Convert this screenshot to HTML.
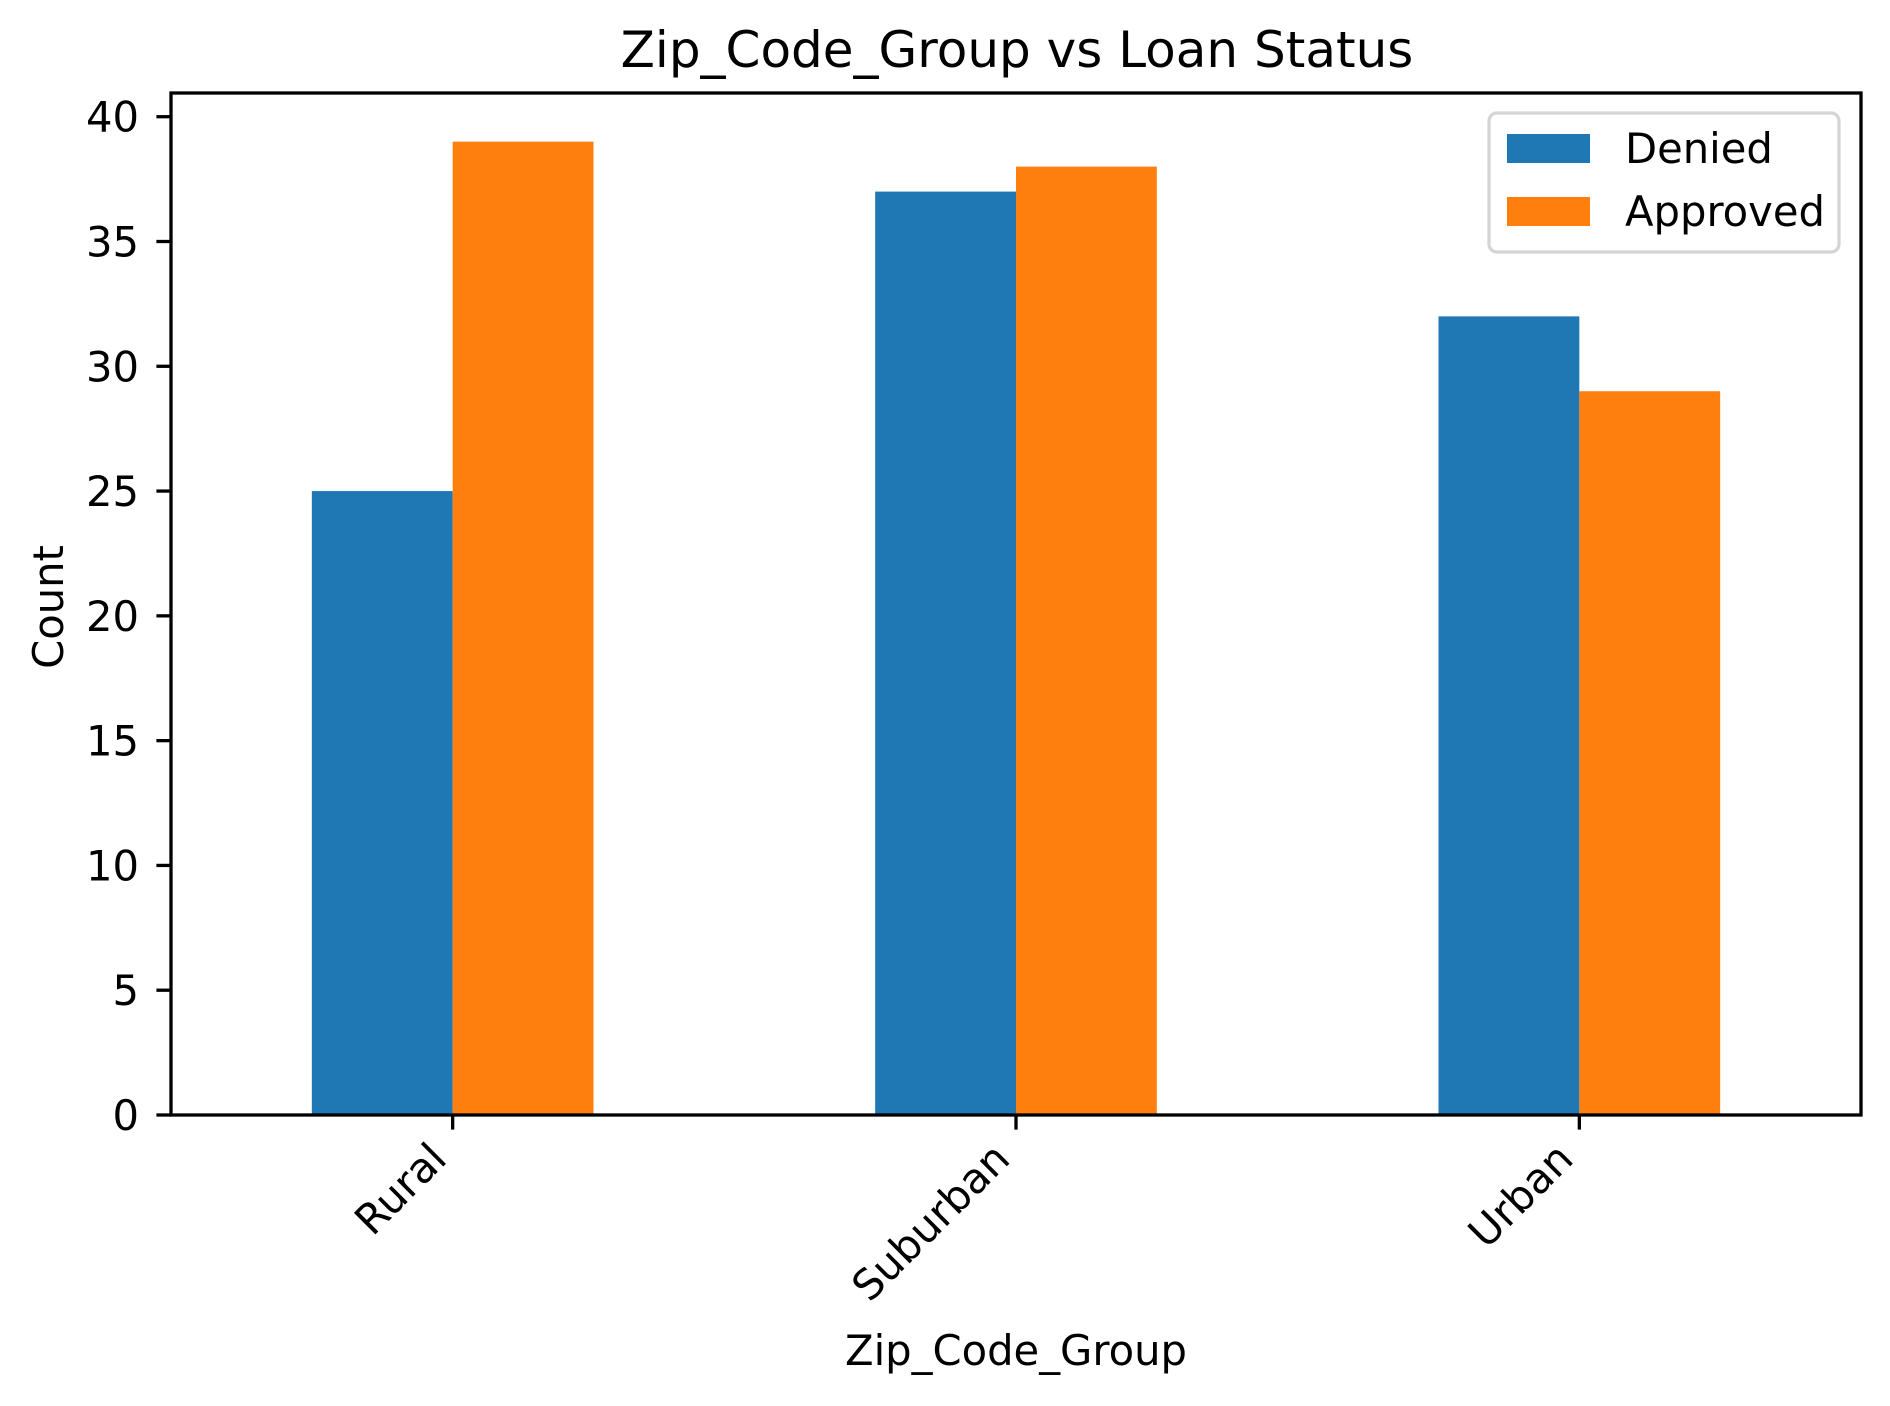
<!DOCTYPE html>
<html><head><meta charset="utf-8"><style>
html,body{margin:0;padding:0;background:#fff;}
svg{display:block;font-family:"DejaVu Sans","Liberation Sans",sans-serif;}
</style></head><body>
<svg id="chart" width="1890" height="1406" viewBox="0 0 1890 1406" xmlns="http://www.w3.org/2000/svg">
<rect width="1890" height="1406" fill="#fff"/>
<text x="1017" y="67" font-size="50" text-anchor="middle">Zip_Code_Group vs Loan Status</text>
<g id="bars"></g>
<g id="axes"></g>
<text transform="translate(63,607) rotate(-90)" font-size="41.7" text-anchor="middle">Count</text>
<text x="1016" y="1365" font-size="41.7" text-anchor="middle">Zip_Code_Group</text>
<g>
<rect x="1489" y="113" width="350" height="139" rx="8" fill="#fff" fill-opacity="0.8" stroke="#d5d5d5" stroke-width="3.3"/>
<rect x="1507" y="134" width="83" height="29" fill="#1f77b4"/>
<text x="1625" y="163" font-size="41.7">Denied</text>
<rect x="1507" y="197" width="83" height="29" fill="#ff7f0e"/>
<text x="1625" y="226" font-size="41.7">Approved</text>
</g>
</svg>
<script>
const categories = ["Rural", "Suburban", "Urban"];
const denied = [25, 37, 32];
const approved = [39, 38, 29];
const yTicks = [0, 5, 10, 15, 20, 25, 30, 35, 40];

const L = 171, R = 1861, T = 93, B = 1115;
const yMax = 40.95;
const NS = "http://www.w3.org/2000/svg";
function xScale(i) { return L + (i + 0.5) * (R - L) / categories.length; }
function yScale(v) { return B - v / yMax * (B - T); }
const unit = (R - L) / categories.length;
const bw = 0.25 * unit;
function mk(tag, attrs, parent) {
  const e = document.createElementNS(NS, tag);
  for (const k in attrs) e.setAttribute(k, attrs[k]);
  parent.appendChild(e);
  return e;
}
const bars = document.getElementById('bars');
const axes = document.getElementById('axes');
const series = [[denied, "#1f77b4", "denied", -1], [approved, "#ff7f0e", "approved", 0]];
series.forEach(s => {
  s[0].forEach((v, i) => {
    const r = mk('rect', {x: xScale(i) + s[3] * bw, y: yScale(v), width: bw, height: yScale(0) - yScale(v), fill: s[1]}, bars);
    
    
  });
});
const frame = mk('rect', {x: L, y: T, width: R - L, height: B - T, fill: 'none', stroke: '#000', 'stroke-width': 3.3}, axes);


yTicks.forEach(t => {
  const y = yScale(t);
  const ln = mk('line', {x1: L - 14.6, x2: L, y1: y, y2: y, stroke: '#000', 'stroke-width': 3.3}, axes);
  
  
  const tx = mk('text', {x: 139, y: y + 15, 'font-size': 41.7, 'text-anchor': 'end'}, axes);
  tx.textContent = t;
  
  
});
categories.forEach((c, i) => {
  const x = xScale(i);
  const ln = mk('line', {x1: x, x2: x, y1: B, y2: B + 14.6, stroke: '#000', 'stroke-width': 3.3}, axes);
  
  
  const tx = mk('text', {transform: 'translate(' + (x - 4) + ',' + (B + 46) + ') rotate(-45)', 'font-size': 41.7, 'text-anchor': 'end'}, axes);
  tx.textContent = c;
  
  
});
</script>
</body></html>
